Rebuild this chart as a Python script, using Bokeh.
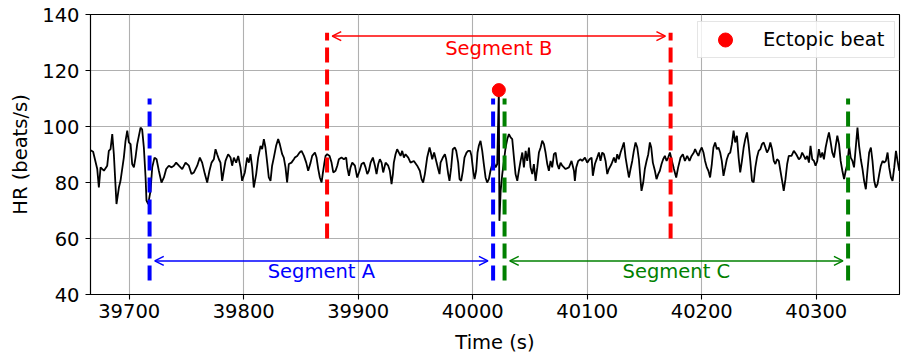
from bokeh.plotting import figure
from bokeh.models import Range1d, Arrow, OpenHead, Legend, LegendItem
from bokeh.core.properties import value
from bokeh.embed import file_html
from bokeh.resources import INLINE

# ---- heart-rate trace (time in s, HR in beats/s) ----
hr_time_1 = [39666.3, 39668.5, 39672.1, 39673.5, 39675.0, 39677.9, 39680.8, 39682.2, 39683.7, 39685.2,
             39686.6, 39688.9, 39691.0, 39692.4, 39695.3, 39696.8, 39698.3, 39699.7, 39701.2, 39702.6,
             39704.1, 39705.5, 39707.0, 39709.9, 39711.3, 39712.8, 39714.3, 39715.1, 39716.6, 39718.6,
             39720.1, 39722.1, 39723.9, 39725.9, 39728.2, 39730.3, 39732.3, 39734.6, 39737.0, 39739.0,
             39741.0, 39743.4, 39746.3, 39749.2, 39752.1, 39754.4, 39756.5, 39759.4, 39761.7, 39763.7,
             39766.1, 39768.1, 39770.1, 39771.9, 39773.9, 39775.4, 39776.8, 39778.3, 39779.7, 39781.2,
             39782.6, 39784.1, 39786.4, 39788.5, 39789.9, 39791.4, 39793.4, 39795.2, 39797.2, 39798.6,
             39801.0, 39803.0, 39804.5, 39805.9, 39807.4, 39808.8, 39810.9, 39812.6, 39814.7, 39816.1,
             39817.6, 39819.0, 39820.5, 39821.9, 39823.4, 39824.8, 39826.3, 39828.3, 39830.1, 39831.5,
             39833.6, 39835.0, 39836.5, 39837.9, 39839.4, 39841.7, 39843.8]
hr_bpm_1 = [91.5, 91.0, 84.8, 78.2, 85.4, 84.2, 86.0, 91.3, 91.9, 97.3,
            90.1, 72.3, 78.2, 80.6, 88.9, 94.9, 98.5, 94.3, 93.7, 86.6,
            85.4, 88.9, 93.7, 99.6, 99.0, 92.5, 81.8, 73.5, 72.3, 77.0,
            85.4, 88.9, 88.3, 84.2, 80.0, 81.8, 84.8, 86.0, 85.4, 86.0,
            87.1, 86.0, 84.8, 87.1, 86.0, 83.0, 83.6, 86.0, 88.9, 87.1,
            83.0, 80.0, 84.2, 87.1, 88.3, 91.9, 90.1, 88.3, 87.1, 80.6,
            84.2, 87.7, 90.1, 88.9, 86.0, 88.9, 87.1, 89.5, 85.4, 80.6,
            83.6, 88.9, 87.1, 90.1, 85.4, 78.2, 83.0, 88.9, 93.1, 91.9,
            95.5, 92.5, 87.1, 81.8, 80.6, 86.0, 88.9, 93.1, 95.5, 93.7,
            90.1, 88.9, 85.4, 80.0, 86.6, 87.1, 88.3]

hr_time_2 = [39844.7, 39846.7, 39848.8, 39850.5, 39852.6, 39854.6, 39856.3, 39858.4, 39859.8, 39862.2,
             39863.6, 39865.1, 39866.5, 39868.0, 39869.2, 39870.3, 39871.5, 39872.9, 39875.0, 39876.7,
             39878.2, 39880.2, 39881.7, 39883.1, 39885.4, 39887.5, 39889.5, 39890.4, 39891.9, 39893.3,
             39894.8, 39897.1, 39899.1, 39901.2, 39902.9, 39904.9, 39906.4, 39907.9, 39909.3, 39910.8,
             39912.8, 39914.6, 39916.0, 39917.5, 39918.9, 39920.4, 39921.8, 39923.9, 39926.2, 39927.6,
             39929.1, 39930.3, 39931.1, 39932.6, 39934.0, 39935.5, 39937.0, 39938.4, 39939.9, 39941.3,
             39943.7, 39945.7, 39948.6, 39951.5, 39953.8, 39955.3, 39956.7, 39958.2, 39960.2, 39962.3,
             39963.4, 39964.6, 39966.3, 39968.1, 39969.8, 39971.0, 39971.9, 39973.9, 39975.7, 39976.8,
             39978.6, 39979.7, 39981.2, 39982.6, 39984.4, 39985.6, 39987.3, 39988.5, 39989.9, 39991.4,
             39992.8, 39994.6, 39996.0, 39997.8, 39998.9, 40000.4, 40001.6, 40003.0, 40004.2, 40005.3,
             40006.8, 40008.3, 40009.7, 40011.2, 40012.6, 40014.1, 40015.5]
hr_bpm_2 = [88.9, 89.5, 90.7, 91.3, 89.5, 87.1, 84.2, 87.1, 89.5, 90.7,
            88.9, 84.8, 81.8, 80.0, 83.6, 86.6, 89.5, 90.1, 89.5, 87.1,
            83.6, 84.2, 86.0, 88.3, 88.9, 88.3, 88.9, 85.4, 82.4, 85.4,
            87.1, 86.0, 81.8, 84.2, 86.6, 87.1, 85.4, 83.0, 84.2, 87.1,
            88.9, 86.0, 83.0, 86.6, 88.3, 87.1, 83.6, 87.1, 86.0, 84.2,
            79.4, 83.0, 87.1, 90.1, 91.9, 90.7, 89.5, 91.3, 88.9, 90.1,
            88.9, 87.1, 87.7, 86.0, 84.2, 81.2, 80.0, 83.0, 88.9, 92.5,
            90.7, 88.3, 90.7, 87.7, 84.8, 83.0, 87.1, 88.9, 90.1, 88.3,
            83.0, 80.6, 85.4, 91.9, 92.5, 91.3, 87.1, 81.2, 80.6, 84.2,
            88.9, 90.7, 91.3, 91.3, 89.5, 84.2, 81.2, 84.2, 90.7, 93.1,
            94.9, 91.3, 86.6, 81.8, 80.0, 81.2, 84.2]

hr_time_3 = [40017.1, 40018.5, 40020.0, 40021.4, 40022.8, 40023.3, 40024.4, 40025.8, 40027.3, 40028.7,
             40030.2, 40031.6, 40033.1, 40034.5, 40036.0, 40037.4, 40038.9, 40040.3, 40041.8, 40043.3,
             40044.7, 40046.2, 40047.6, 40049.1, 40050.5, 40052.0, 40053.4, 40054.9, 40056.4, 40057.8,
             40059.3, 40060.7, 40062.2, 40063.6, 40065.1, 40066.5, 40068.0, 40069.4, 40070.9, 40072.4,
             40073.8, 40075.3, 40076.7, 40078.2, 40081.1, 40084.0, 40086.3, 40088.4, 40089.2, 40090.4,
             40092.1, 40094.2, 40095.6, 40098.0, 40100.0, 40102.0, 40103.8, 40104.9, 40106.7, 40108.7,
             40110.2, 40111.6, 40113.1, 40114.6, 40116.0, 40117.5, 40118.9, 40121.2, 40123.3, 40124.8,
             40126.2, 40127.6, 40129.1, 40130.6, 40132.0, 40133.5, 40134.9, 40136.4, 40137.8, 40139.3,
             40140.7, 40142.2, 40143.7, 40145.1, 40146.6, 40147.4, 40148.9, 40150.3, 40151.8, 40153.3,
             40154.7, 40155.9, 40157.3, 40159.1, 40160.5, 40162.0, 40163.4, 40164.9, 40166.3, 40167.8,
             40169.3, 40170.7, 40172.2, 40173.6, 40175.7, 40177.7, 40179.4, 40181.5, 40183.5, 40185.3,
             40187.3, 40189.3, 40191.1, 40193.1]
hr_bpm_3 = [86.6, 87.1, 85.4, 86.6, 113.0, 66.3, 77.0, 83.0, 87.7, 92.5,
            95.5, 97.3, 96.1, 95.5, 88.9, 83.0, 80.6, 84.2, 87.7, 90.7,
            85.4, 91.3, 87.7, 92.5, 85.4, 83.0, 86.6, 80.6, 85.4, 90.7,
            92.5, 94.9, 93.7, 90.7, 86.6, 84.2, 87.7, 85.4, 90.1, 90.7,
            86.6, 84.8, 87.1, 86.0, 84.8, 85.4, 87.7, 84.2, 80.6, 85.4,
            87.7, 88.3, 87.7, 88.9, 87.1, 88.3, 88.9, 82.4, 86.6, 88.9,
            90.7, 87.7, 90.7, 90.1, 87.7, 83.0, 84.8, 86.6, 88.9, 87.1,
            90.1, 88.3, 90.7, 92.5, 94.3, 88.9, 85.4, 81.8, 84.8, 87.7,
            91.3, 94.3, 92.5, 88.3, 80.6, 77.0, 80.0, 84.8, 87.7, 90.1,
            94.3, 92.5, 87.1, 84.2, 81.2, 83.0, 84.2, 86.6, 88.3, 89.5,
            87.7, 88.9, 90.7, 88.3, 84.8, 81.8, 85.4, 88.9, 90.1, 87.7,
            89.5, 87.7, 89.5, 90.7]

hr_time_4 = [40194.2, 40195.6, 40197.1, 40198.5, 40200.0, 40201.5, 40202.9, 40204.4, 40205.8, 40207.3,
             40208.8, 40210.2, 40211.7, 40213.2, 40214.6, 40216.1, 40217.5, 40219.0, 40220.5, 40221.9,
             40223.4, 40224.9, 40226.3, 40227.8, 40229.2, 40230.7, 40232.2, 40233.6, 40235.1, 40236.6,
             40238.0, 40239.5, 40240.9, 40242.4, 40243.9, 40245.3, 40246.8, 40248.2, 40249.7, 40251.2,
             40252.6, 40254.1, 40255.6, 40257.0, 40258.5, 40259.9, 40261.4, 40262.9, 40264.3, 40265.8,
             40267.3, 40268.7, 40270.2, 40271.6, 40273.1, 40274.6, 40276.0, 40278.4, 40280.4, 40282.5,
             40284.8, 40286.3, 40287.7, 40289.2, 40290.6, 40292.1, 40293.6, 40295.0, 40296.5, 40298.0,
             40299.4, 40300.9, 40302.3, 40303.8, 40305.3, 40306.7, 40308.2, 40309.7, 40311.1, 40312.6,
             40314.0, 40315.5, 40317.0, 40318.4, 40319.9, 40321.3, 40322.8, 40324.3, 40325.7, 40327.2,
             40328.7, 40330.1, 40331.6, 40333.0, 40334.5, 40336.0, 40337.4, 40338.9, 40340.4, 40341.8,
             40343.3, 40344.7, 40346.2, 40347.7, 40349.1, 40350.6, 40352.0, 40353.5, 40355.0, 40356.4,
             40357.9, 40359.3, 40360.8, 40362.3, 40363.7, 40365.2, 40366.6, 40368.1, 40369.6, 40371.0,
             40372.5]
hr_bpm_4 = [91.9, 90.7, 89.5, 91.3, 92.5, 90.7, 87.7, 85.4, 84.2, 81.8,
            86.6, 92.5, 94.3, 91.9, 92.5, 90.7, 87.7, 82.4, 85.4, 88.3,
            90.1, 90.7, 93.7, 98.5, 94.3, 96.7, 88.9, 83.6, 87.7, 92.5,
            95.5, 97.9, 93.7, 87.7, 80.6, 80.0, 85.4, 88.9, 91.3, 91.9,
            93.7, 94.3, 92.5, 90.7, 91.9, 94.3, 91.9, 87.7, 86.6, 88.3,
            87.7, 84.2, 80.6, 77.0, 81.2, 86.6, 89.5, 89.5, 91.3, 90.1,
            88.3, 88.9, 90.7, 89.5, 88.3, 89.5, 87.1, 93.1, 88.3, 87.7,
            86.0, 87.7, 91.9, 88.9, 90.7, 88.3, 92.5, 95.5, 97.9, 94.3,
            90.7, 88.9, 93.1, 96.7, 93.7, 87.7, 84.2, 81.2, 84.2, 86.6,
            93.1, 88.9, 87.7, 85.4, 92.5, 99.6, 93.1, 88.3, 84.8, 80.6,
            77.6, 84.2, 90.7, 92.5, 87.7, 80.6, 78.2, 79.4, 83.0, 86.0,
            87.7, 87.1, 87.7, 90.7, 85.4, 81.8, 80.6, 85.4, 91.3, 87.7,
            84.2]

# ---- ectopic beat and analysis segments ----
ectopic_time = [40022.8]
ectopic_hr = [113.0]

segment_names = ["Segment A", "Segment B", "Segment C"]
segment_start = [39717.8, 39872.8, 40027.8]
segment_end = [40017.8, 40172.8, 40327.8]
segment_colors = ["#0000ff", "#ff0000", "#008000"]
marker_low = [45.0, 60.0, 45.0]      # lower end of the dashed boundary lines
marker_high = [110.0, 133.5, 110.0]  # upper end of the dashed boundary lines
arrow_level = [52.0, 132.3, 52.0]
label_level = [48.2, 127.9, 48.2]

x_ticks = [39700, 39800, 39900, 40000, 40100, 40200, 40300]
y_ticks = [40, 60, 80, 100, 120, 140]

FONT = "DejaVu Sans"
FS = "19.5px"

hr_time = hr_time_1 + hr_time_2 + hr_time_3 + hr_time_4
hr_bpm = hr_bpm_1 + hr_bpm_2 + hr_bpm_3 + hr_bpm_4

p = figure(width=901, height=360, output_backend="svg", toolbar_location=None,
           x_range=Range1d(39666.2, 40372.7), y_range=Range1d(40, 140),
           min_border_left=90, min_border_right=2, min_border_top=14, min_border_bottom=66)
p.outline_line_color = "black"
p.outline_line_width = 1.1
p.background_fill_color = "white"
p.border_fill_color = "white"

for ax in (p.xaxis, p.yaxis):
    ax.axis_line_color = "black"
    ax.axis_line_width = 1.1
    ax.major_tick_line_color = "black"
    ax.major_tick_line_width = 1.1
    ax.major_tick_out = 5
    ax.major_tick_in = 0
    ax.minor_tick_out = 0
    ax.minor_tick_in = 0
    ax.major_label_text_font = FONT
    ax.major_label_text_font_size = FS
    ax.major_label_text_color = "black"
    ax.axis_label_text_font = FONT
    ax.axis_label_text_font_size = FS
    ax.axis_label_text_font_style = "normal"
    ax.axis_label_text_color = "black"

p.xaxis.ticker = x_ticks
p.yaxis.ticker = y_ticks
p.xaxis.axis_label = "Time (s)"
p.yaxis.axis_label = "HR (beats/s)"
p.xaxis.major_label_standoff = 4
p.xaxis.axis_label_standoff = 10
p.yaxis.major_label_standoff = 6
p.yaxis.axis_label_standoff = 7

for g in (p.xgrid, p.ygrid):
    g.grid_line_color = "#b0b0b0"
    g.grid_line_width = 1.1

# heart-rate trace
p.line(hr_time, hr_bpm, line_color="black", line_width=1.8)

# dashed segment boundaries, arrows and labels
for name, s0, s1, col, lo, hi, ya, yl in zip(segment_names, segment_start, segment_end,
                                              segment_colors, marker_low, marker_high,
                                              arrow_level, label_level):
    p.segment(x0=[s0, s1], y0=[lo, lo], x1=[s0, s1], y1=[hi, hi],
              line_color=col, line_width=4, line_dash="15 7")
    gap = 4.5
    p.add_layout(Arrow(x_start=s0 + gap, y_start=ya, x_end=s1 - gap, y_end=ya,
                       line_color=col, line_width=1.5,
                       start=OpenHead(size=9, line_color=col, line_width=1.5),
                       end=OpenHead(size=9, line_color=col, line_width=1.5)))
    p.text(x=[(s0 + s1) / 2], y=[yl], text=[name], text_color=col,
           text_font=value(FONT), text_font_size=value(FS),
           text_align="center", text_baseline="alphabetic")

dot = p.scatter(ectopic_time, ectopic_hr, size=13, fill_color="#ff0000", line_color="#ff0000")

legend = Legend(items=[LegendItem(label="Ectopic beat", renderers=[dot])],
                location=(607, 236), padding=0, margin=0, spacing=0,
                glyph_width=54, glyph_height=35, label_standoff=11, label_width=131,
                label_text_font=FONT, label_text_font_size=FS, label_text_color="black",
                border_line_color="#cccccc", border_line_width=1,
                background_fill_color="white", background_fill_alpha=0.8)
p.add_layout(legend)

open("out.html", "w").write(file_html(p, INLINE))
